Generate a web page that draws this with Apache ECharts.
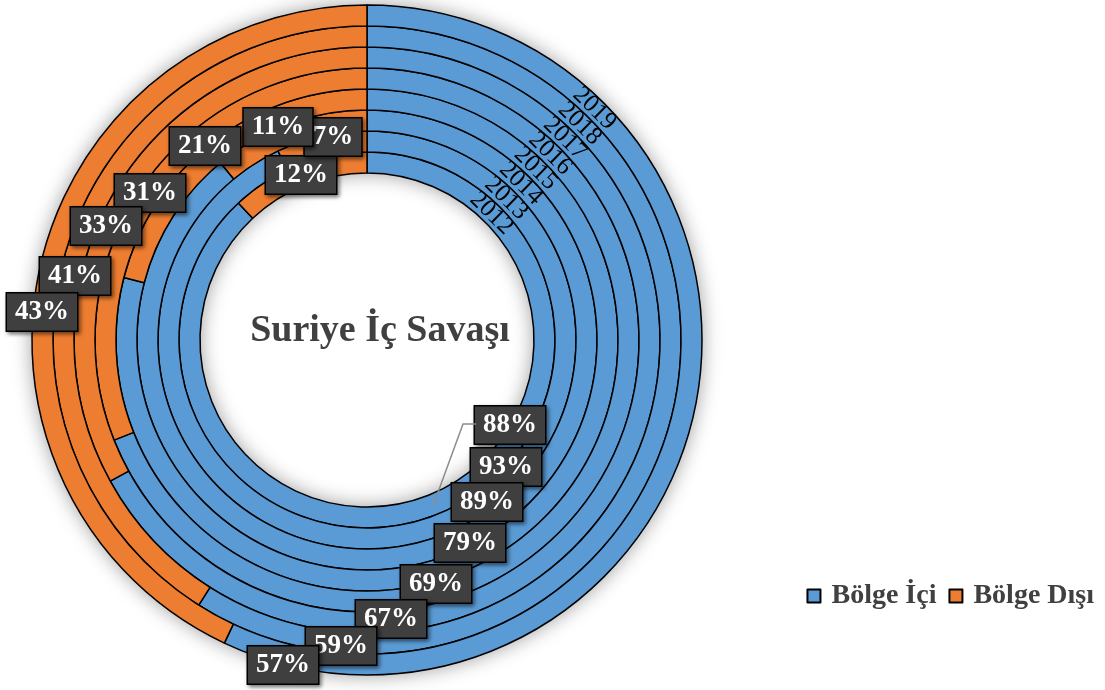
<!DOCTYPE html>
<html>
<head>
<meta charset="utf-8">
<script src="https://cdn.jsdelivr.net/npm/echarts@6/dist/echarts.min.js"></script>
<style>
  html, body { margin: 0; padding: 0; background: #fff; }
  #chart { width: 1105px; height: 690px; }
</style>
</head>
<body>
<div id="chart"></div>
<script>
// halkalar içten dışa: 2012 -> 2019
const years = ['2012', '2013', '2014', '2015', '2016', '2017', '2018', '2019']
const bolgeIci = [88, 93, 89, 79, 69, 67, 59, 57]
const bolgeDisi = [12, 7, 11, 21, 31, 33, 41, 43]
const seriesNames = ['Bölge İçi', 'Bölge Dışı']

const BLUE = '#5B9BD5'
const ORANGE = '#ED7D31'
const FONT = '"Liberation Serif", "Times New Roman", serif'

const cx = 367, cy = 340
const rIn = 167, ringW = 21

// etiket kutularının yerleri (elle taşınmış gibi, merdiven şeklinde)
const blueLabelPos = [[510, 425], [506, 467], [487, 502], [470, 543], [436, 584], [391, 619], [341, 646], [283, 665]]
const orangeLabelPos = [[301, 175], [333, 137], [278, 127], [205, 146], [150, 193], [106, 226], [75, 276], [42, 312]]

const labelBox = {
  show: true,
  position: 'inside',
  formatter: (p) => p.value + '%',
  color: '#fff',
  fontFamily: FONT,
  fontWeight: 'bold',
  fontSize: 27,
  lineHeight: 28,
  backgroundColor: '#3f3f3f',
  borderColor: '#000',
  borderWidth: 1.5,
  padding: [5, 8, 4, 8],
  shadowBlur: 4,
  shadowOffsetX: 2,
  shadowOffsetY: 2,
  shadowColor: 'rgba(0,0,0,0.45)'
}

const series = [
  // halkanın arkasındaki gölge
  {
    type: 'pie',
    silent: true,
    z: 1,
    center: [cx, cy],
    radius: [rIn, rIn + ringW * years.length],
    label: { show: false },
    labelLine: { show: false },
    itemStyle: { color: '#fff', shadowBlur: 20, shadowColor: 'rgba(0,0,0,0.4)' },
    data: [{ value: 1, name: '_bg' }]
  }
]

years.forEach((y, i) => {
  series.push({
    type: 'pie',
    name: y,
    z: 2,
    center: [cx, cy],
    radius: [rIn + ringW * i, rIn + ringW * (i + 1)],
    startAngle: 90,
    clockwise: true,
    animation: false,
    avoidLabelOverlap: false,
    itemStyle: { borderColor: '#000', borderWidth: 1.5 },
    emphasis: { disabled: true },
    label: labelBox,
    labelLine: { show: false },
    labelLayout: (p) => {
      const pos = p.dataIndex === 0 ? blueLabelPos[i] : orangeLabelPos[i]
      return { x: pos[0], y: pos[1], align: 'center', verticalAlign: 'middle' }
    },
    data: [
      { name: seriesNames[0], value: bolgeIci[i], itemStyle: { color: BLUE } },
      { name: seriesNames[1], value: bolgeDisi[i], itemStyle: { color: ORANGE } }
    ]
  })
})

// yıl yazıları halkaların üzerinde, ~45 derecede
const yearAngle = 44.5 * Math.PI / 180
const yearTexts = years.map((y, i) => {
  const r = rIn + ringW * i + ringW / 2
  return {
    type: 'text',
    z: 10,
    x: cx + r * Math.sin(yearAngle),
    y: cy - r * Math.cos(yearAngle),
    rotation: -yearAngle,
    style: {
      text: y,
      fill: '#000',
      font: '25px ' + FONT,
      textAlign: 'center',
      textVerticalAlign: 'middle'
    }
  }
})

const chart = echarts.init(document.getElementById('chart'))
chart.setOption({
  animation: false,
  color: [BLUE, ORANGE],
  legend: {
    data: seriesNames,
    right: 6,
    top: 577,
    icon: 'rect',
    itemWidth: 13,
    itemHeight: 13,
    itemGap: 12,
    textStyle: { fontFamily: FONT, fontWeight: 'bold', fontSize: 28, color: '#404040', padding: [0, 0, 0, 6] }
  },
  graphic: [
    {
      type: 'text',
      z: 10,
      x: 380,
      y: 331,
      style: {
        text: 'Suriye İç Savaşı',
        fill: '#404040',
        font: 'bold 38px ' + FONT,
        textAlign: 'center',
        textVerticalAlign: 'middle'
      }
    },
    {
      type: 'polyline',
      z: 3,
      shape: { points: [[433, 506], [463, 424], [476, 424]] },
      style: { stroke: '#8c8c8c', lineWidth: 1.5, fill: null }
    }
  ].concat(yearTexts),
  series
})
</script>
</body>
</html>
